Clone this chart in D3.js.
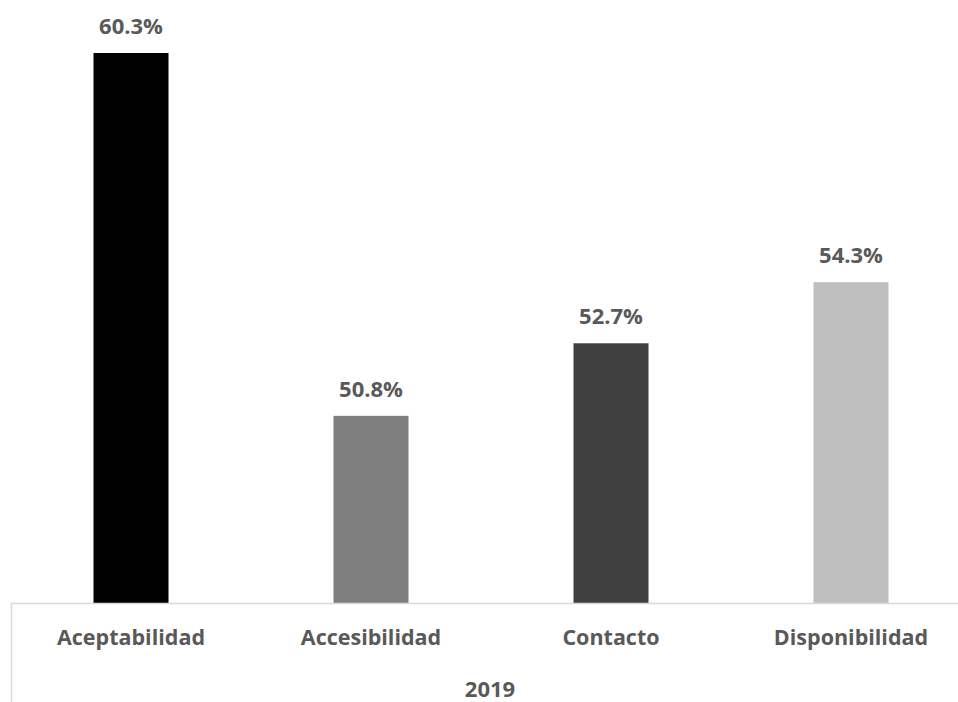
<!DOCTYPE html>
<html>
<head>
<meta charset="utf-8">
<script src="https://cdn.jsdelivr.net/npm/d3@7"></script>
<style>
  html, body { margin: 0; padding: 0; background: #ffffff; }
  svg { display: block; }
  text { font-family: "Open Sans", "DejaVu Sans", sans-serif; font-weight: 700; fill: #595959; }
</style>
</head>
<body>
<svg id="chart" width="958" height="702"></svg>
<script>
// Indicators measured in 2019
const categories = ["Aceptabilidad", "Accesibilidad", "Contacto", "Disponibilidad"];
const values = [60.3, 50.8, 52.7, 54.3];
const barColors = ["#000000", "#7f7f7f", "#404040", "#bfbfbf"];
const groupLabel = "2019";

const svg = d3.select("#chart");

const x = d3.scaleBand()
  .domain(categories)
  .range([11, 971])
  .paddingInner(0.6875)
  .paddingOuter(0.34375);

const y = d3.scaleLinear()
  .domain([45.9, 60.3])
  .range([603, 53]);

// Bars
svg.selectAll("rect.bar")
  .data(categories)
  .join("rect")
  .attr("class", "bar")
  .attr("x", d => x(d))
  .attr("width", x.bandwidth())
  .attr("y", (d, i) => y(values[i]))
  .attr("height", (d, i) => y.range()[0] - y(values[i]))
  .attr("fill", (d, i) => barColors[i]);

// Value labels
svg.selectAll("text.value")
  .data(categories)
  .join("text")
  .attr("class", "value")
  .attr("x", d => x(d) + x.bandwidth() / 2)
  .attr("y", (d, i) => y(values[i]) - 19)
  .attr("text-anchor", "middle")
  .attr("font-size", 22)
  .text((d, i) => d3.format(".1f")(values[i]) + "%");

// Category axis line and left boundary tick
const base = y.range()[0];
svg.append("line")
  .attr("x1", 11).attr("x2", 958)
  .attr("y1", base + 0.5).attr("y2", base + 0.5)
  .attr("stroke", "#d9d9d9").attr("stroke-width", 1.5);
svg.append("line")
  .attr("x1", 11.5).attr("x2", 11.5)
  .attr("y1", base).attr("y2", 702)
  .attr("stroke", "#d9d9d9").attr("stroke-width", 1.5);

// Category labels
svg.selectAll("text.cat")
  .data(categories)
  .join("text")
  .attr("class", "cat")
  .attr("x", d => x(d) + x.bandwidth() / 2)
  .attr("y", 645)
  .attr("text-anchor", "middle")
  .attr("font-size", 21.5)
  .text(d => d);

// Group label
svg.append("text")
  .attr("x", (11 + 971) / 2 - 1)
  .attr("y", 697)
  .attr("text-anchor", "middle")
  .attr("font-size", 22)
  .text(groupLabel);
</script>
</body>
</html>
